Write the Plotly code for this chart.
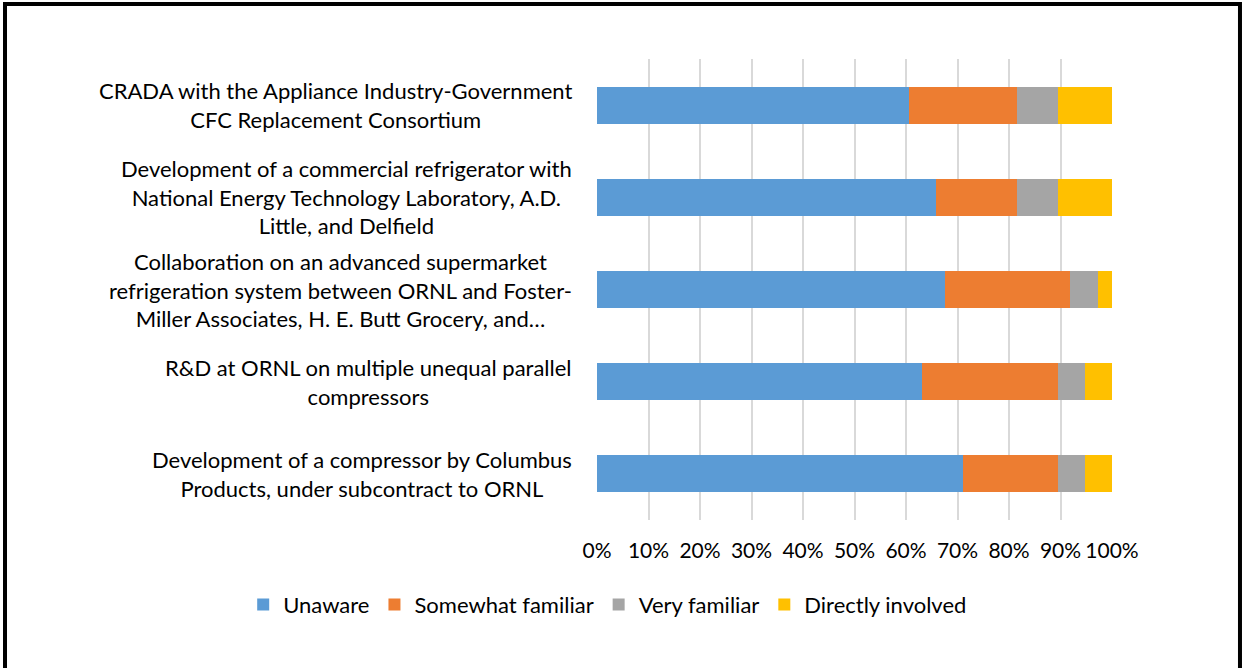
import plotly.graph_objects as go

# Categorias (de cima para baixo) e percentuais
projetos = [
    "CRADA with the Appliance Industry-Government<br>CFC Replacement Consortium",
    "Development of a commercial refrigerator with<br>National Energy Technology Laboratory, A.D.<br>Little, and Delfield",
    "Collaboration on an advanced supermarket<br>refrigeration system between ORNL and Foster-<br>Miller Associates, H. E. Butt Grocery, and…",
    "R&D at ORNL on multiple unequal parallel<br>compressors",
    "Development of a compressor by Columbus<br>Products, under subcontract to ORNL",
]
unaware = [60.5, 65.8, 67.6, 63.2, 71.1]
somewhat = [21.1, 15.8, 24.3, 26.3, 18.4]
very = [7.9, 7.9, 5.4, 5.3, 5.3]
directly = [10.5, 10.5, 2.7, 5.3, 5.3]

series = [
    ("Unaware", unaware, "#5B9BD5"),
    ("Somewhat familiar", somewhat, "#ED7D31"),
    ("Very familiar", very, "#A5A5A5"),
    ("Directly involved", directly, "#FFC000"),
]

FONTE = "Lato, Open Sans, sans-serif"

fig = go.Figure()
for nome, vals, cor in series:
    fig.add_trace(go.Bar(
        y=projetos, x=vals, name=nome, orientation="h",
        marker=dict(color=cor, line=dict(width=0)),
    ))

# rótulos das categorias centralizados (estilo Excel)
for p in projetos:
    fig.add_annotation(
        x=-0.0447, xref="paper", y=p, yref="y",
        text=p, showarrow=False, xanchor="right", align="center",
        font=dict(family=FONTE, size=22, color="#000000"),
    )

# moldura preta em volta da figura
fig.add_shape(
    type="rect", xref="paper", yref="paper",
    x0=-1.1495, x1=1.2485, y0=-0.5, y1=1.1193,
    line=dict(color="black", width=4), fillcolor="rgba(0,0,0,0)",
)

fig.update_layout(
    barmode="stack",
    bargap=0.6,
    width=1242, height=668,
    margin=dict(l=597, r=130, t=59, b=148),
    paper_bgcolor="white", plot_bgcolor="white",
    font=dict(family=FONTE, size=22, color="#000000"),
    xaxis=dict(
        range=[0, 100], tickvals=list(range(0, 101, 10)),
        ticktext=[f"{v}%" for v in range(0, 101, 10)],
        showgrid=True, gridcolor="#D9D9D9", gridwidth=2,
        zeroline=False, showline=False, ticks="",
        tickfont=dict(size=21), tickangle=0, ticklabelstandoff=16,
    ),
    yaxis=dict(
        categoryorder="array", categoryarray=projetos,
        autorange="reversed", showticklabels=False,
        showgrid=False, zeroline=False, showline=False,
    ),
    legend=dict(
        orientation="h", x=-0.687, xanchor="left",
        y=-0.184, yanchor="middle",
        font=dict(size=22), traceorder="normal",
    ),
)

fig.write_html(
    "out.html",
    config={"displayModeBar": False},
    post_script="document.body.style.margin='0px';",
)
